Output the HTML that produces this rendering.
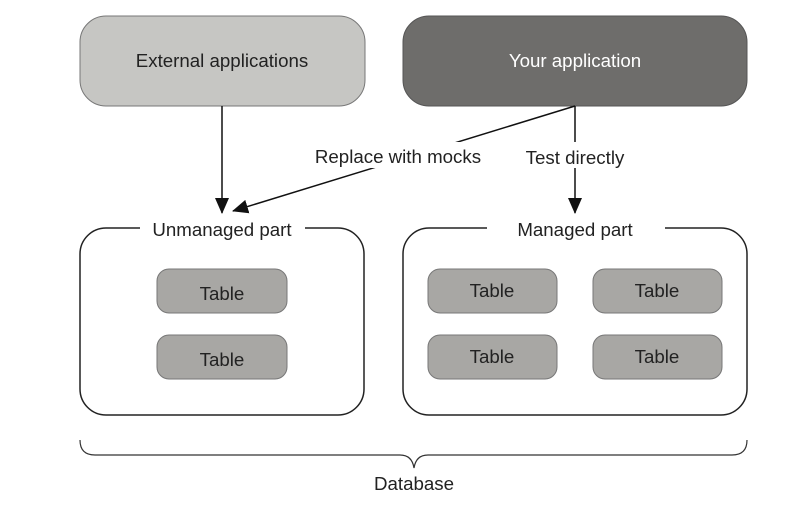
<!DOCTYPE html>
<html><head><style>body{margin:0;background:#fff}</style></head><body>
<svg width="802" height="506" viewBox="0 0 802 506" xmlns="http://www.w3.org/2000/svg" font-family="Liberation Sans, sans-serif" font-size="18.7">
<defs><marker id="b" markerWidth="16" markerHeight="14" refX="15" refY="7" orient="auto" markerUnits="userSpaceOnUse"><path d="M0,0 L16,7 L0,14 z" fill="#111"/></marker></defs>
<rect x="80" y="16" width="285" height="90" rx="26" fill="#c6c6c3" stroke="#777" stroke-width="1"/>
<text x="222" y="67" text-anchor="middle" fill="#222">External applications</text>
<rect x="403" y="16" width="344" height="90" rx="26" fill="#6e6d6b" stroke="#555" stroke-width="1"/>
<text x="575" y="67" text-anchor="middle" fill="#fff">Your application</text>
<line x1="222" y1="106" x2="222" y2="213" stroke="#111" stroke-width="1.5" marker-end="url(#b)"/>
<line x1="575" y1="106" x2="575" y2="213" stroke="#111" stroke-width="1.5" marker-end="url(#b)"/>
<line x1="575" y1="106" x2="233" y2="211" stroke="#111" stroke-width="1.5" marker-end="url(#b)"/>
<rect x="308" y="142" width="182" height="26" fill="#fff"/>
<rect x="520" y="142" width="110" height="26" fill="#fff"/>
<text x="398" y="163" text-anchor="middle" fill="#222">Replace with mocks</text>
<text x="575" y="164" text-anchor="middle" fill="#222">Test directly</text>
<rect x="80" y="228" width="284" height="187" rx="26" fill="none" stroke="#222" stroke-width="1.5"/>
<rect x="140" y="218" width="165" height="20" fill="#fff"/>
<text x="222" y="236" text-anchor="middle" fill="#222">Unmanaged part</text>
<rect x="403" y="228" width="344" height="187" rx="26" fill="none" stroke="#222" stroke-width="1.5"/>
<rect x="487" y="218" width="178" height="20" fill="#fff"/>
<text x="575" y="236" text-anchor="middle" fill="#222">Managed part</text>
<g fill="#a8a7a4" stroke="#777" stroke-width="1">
<rect x="157" y="269" width="130" height="44" rx="12"/>
<rect x="157" y="335" width="130" height="44" rx="12"/>
<rect x="428" y="269" width="129" height="44" rx="12"/>
<rect x="593" y="269" width="129" height="44" rx="12"/>
<rect x="428" y="335" width="129" height="44" rx="12"/>
<rect x="593" y="335" width="129" height="44" rx="12"/>
</g>
<g fill="#222" text-anchor="middle">
<text x="222" y="300">Table</text><text x="222" y="366">Table</text>
<text x="492" y="297">Table</text><text x="657" y="297">Table</text>
<text x="492" y="363">Table</text><text x="657" y="363">Table</text>
</g>
<path d="M80,440 Q80,455 95,455 L400,455 Q412,455 414,468 Q416,455 428,455 L732,455 Q747,455 747,440" fill="none" stroke="#333" stroke-width="1.2"/>
<text x="414" y="490" text-anchor="middle" fill="#222">Database</text>
</svg>
</body></html>
